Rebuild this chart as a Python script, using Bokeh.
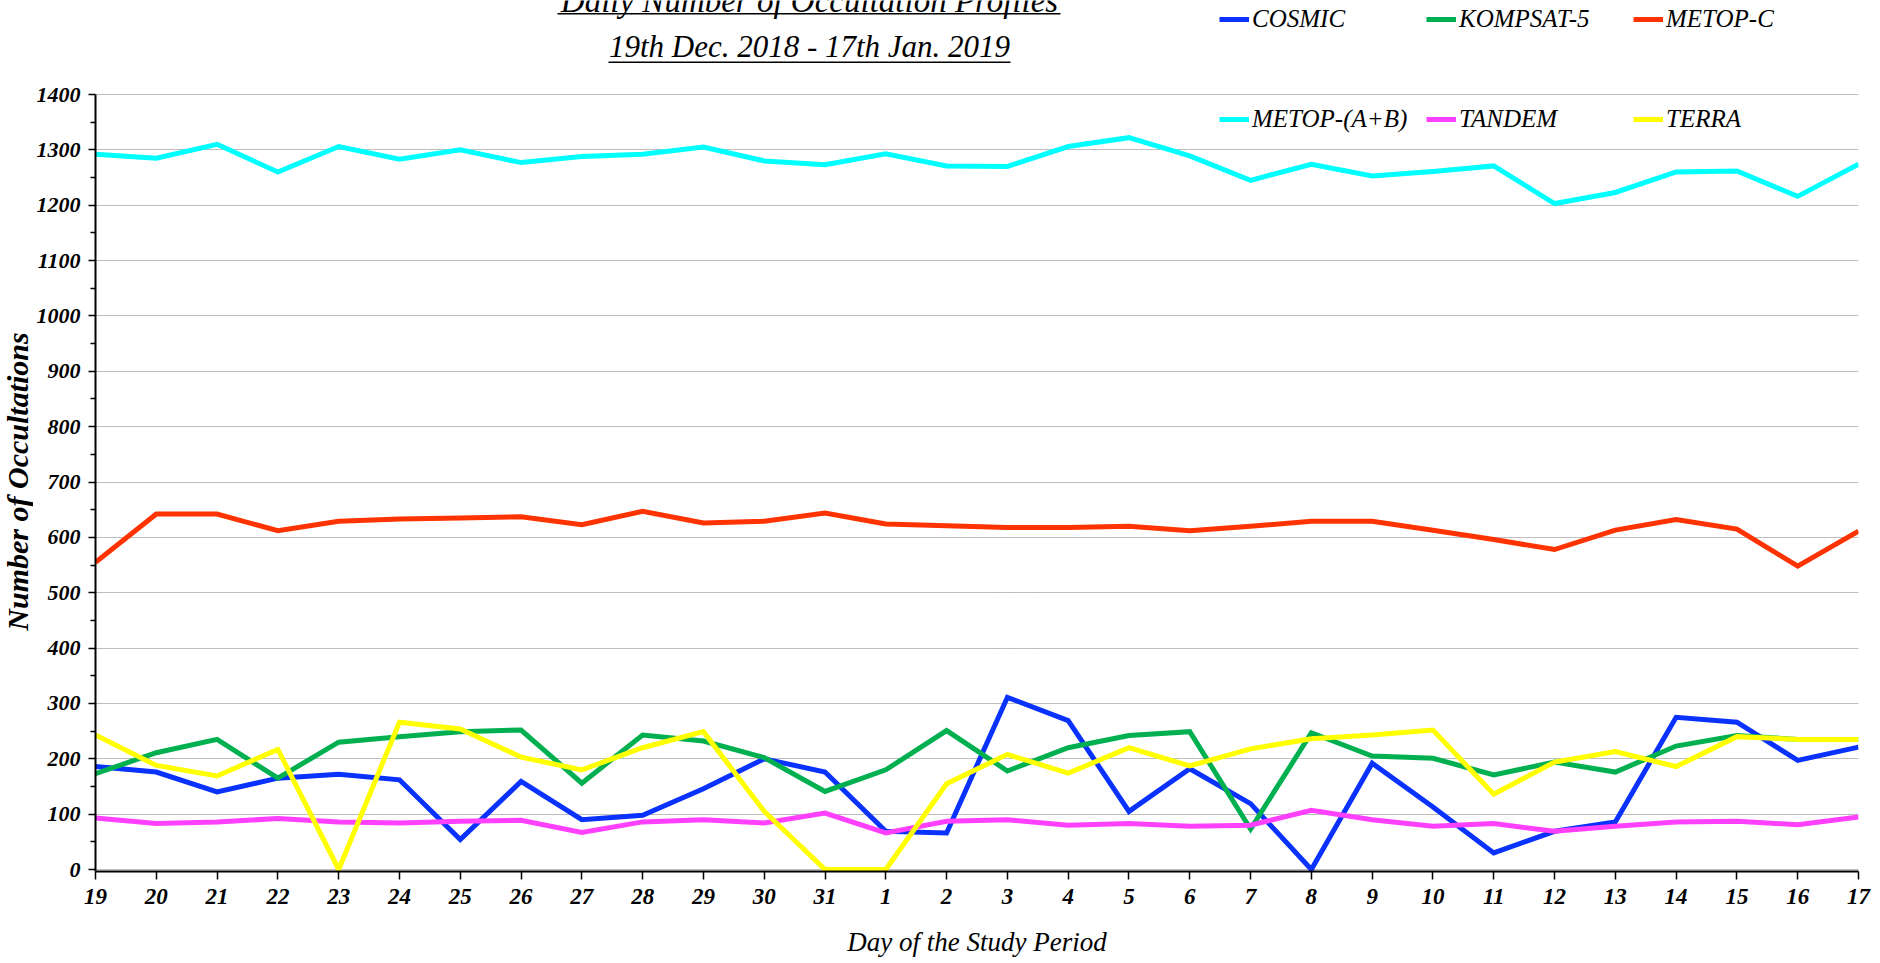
from bokeh.plotting import figure
from bokeh.layouts import row
from bokeh.models import (FixedTicker, Legend, LegendItem, Label, BoxAnnotation,
                          Range1d, ColumnDataSource)
from bokeh.embed import file_html
from bokeh.resources import INLINE

# ---------------- data ----------------
days = [19, 20, 21, 22, 23, 24, 25, 26, 27, 28, 29, 30, 31,
        1, 2, 3, 4, 5, 6, 7, 8, 9, 10, 11, 12, 13, 14, 15, 16, 17]
series_names = ["COSMIC", "KOMPSAT-5", "METOP-C", "METOP-(A+B)", "TANDEM", "TERRA"]
cosmic = [186, 176, 140, 165, 172, 162, 54, 159, 90, 98, 146, 200, 176, 69, 66,
          311, 269, 105, 182, 119, 0, 192, 113, 30, 69, 86, 275, 266, 197, 221]
kompsat5 = [173, 211, 235, 165, 230, 240, 249, 252, 156, 243, 232, 202, 141, 180, 251,
            178, 220, 242, 249, 73, 247, 205, 201, 171, 194, 176, 223, 242, 235, 235]
metop_c = [555, 642, 642, 612, 629, 633, 635, 637, 623, 647, 626, 629, 644, 624, 621,
           618, 618, 620, 612, 620, 629, 629, 613, 596, 578, 613, 632, 615, 548, 611]
metop_ab = [1292, 1285, 1310, 1260, 1306, 1283, 1300, 1277, 1288, 1292, 1305, 1280, 1273, 1293, 1271,
            1270, 1306, 1322, 1289, 1245, 1274, 1253, 1261, 1271, 1203, 1223, 1260, 1262, 1216, 1274]
tandem = [93, 83, 86, 92, 86, 84, 87, 89, 67, 86, 90, 84, 102, 66, 87,
          90, 80, 83, 78, 80, 107, 90, 78, 83, 69, 78, 86, 87, 81, 95]
terra = [243, 188, 169, 217, 0, 266, 254, 203, 180, 220, 249, 105, 0, 0, 155,
         208, 174, 220, 187, 218, 236, 243, 252, 136, 194, 213, 186, 240, 235, 235]
y_ticks = [0, 100, 200, 300, 400, 500, 600, 700, 800, 900, 1000, 1100, 1200, 1300, 1400]
y_minor = [50, 150, 250, 350, 450, 550, 650, 750, 850, 950, 1050, 1150, 1250, 1350]
colors = ["#0a32ff", "#00b050", "#ff3300", "#00ffff", "#ff40ff", "#ffff00"]

title1 = "Daily Number of Occultation Profiles"
title2 = "19th Dec. 2018 - 17th Jan. 2019"
xlabel = "Day of the Study Period"
ylabel = "Number of Occultations"

# ---------------- layout constants ----------------
FONT = "Liberation Serif"
W_TOTAL, H = 1878, 962
W_LAB = 33                      # narrow strip holding the y-axis title
W = W_TOTAL - W_LAB
ML, MR, MT, MB = 92 - W_LAB, 20, 0, 91
frame_h = H - MT - MB
px_per_unit = 775.0 / 1400.0
y_start = -2.0 / px_per_unit
y_end = y_start + frame_h / px_per_unit

# ---------------- y-axis title strip ----------------
lab = figure(width=W_LAB, height=H, output_backend="svg", toolbar_location=None, title=None,
             x_range=Range1d(0, 1), y_range=Range1d(0, 1),
             x_axis_location=None, y_axis_location=None,
             min_border_left=0, min_border_right=0, min_border_top=0, min_border_bottom=0)
lab.outline_line_color = None
lab.xgrid.grid_line_color = None
lab.ygrid.grid_line_color = None
# the strip's frame is aligned with the main frame (bottom at page y = frame_h)
lab.add_layout(Label(x=W_LAB / 2.0, y=frame_h - 481, x_units="screen", y_units="screen", text=ylabel,
                     angle=1.5707963267948966, text_align="center", text_baseline="middle",
                     text_font=FONT, text_font_style="bold italic", text_font_size="30px",
                     text_color="black"))

# ---------------- main figure ----------------
idx = list(range(len(days)))
src = ColumnDataSource(dict(x=idx, cosmic=cosmic, kompsat5=kompsat5, metop_c=metop_c,
                            metop_ab=metop_ab, tandem=tandem, terra=terra))

p = figure(width=W, height=H, output_backend="svg", toolbar_location=None, title=None,
           x_range=Range1d(0, len(days) - 1), y_range=Range1d(y_start, y_end),
           min_border_left=ML, min_border_right=MR, min_border_top=MT, min_border_bottom=MB)
p.outline_line_color = None
p.background_fill_color = "white"
p.border_fill_color = "white"

cols = ["cosmic", "kompsat5", "metop_c", "metop_ab", "tandem", "terra"]
renderers = []
for c, col in zip(cols, colors):
    r = p.line("x", c, source=src, line_color=col, line_width=5, line_join="miter")
    renderers.append(r)

yt = FixedTicker(ticks=y_ticks, minor_ticks=y_minor)
p.yaxis.ticker = yt
p.yaxis.bounds = (y_start, 1400)
p.yaxis.axis_line_width = 2
p.yaxis.axis_line_color = "black"
p.yaxis.major_tick_out = 7
p.yaxis.major_tick_in = 0
p.yaxis.minor_tick_out = 5
p.yaxis.minor_tick_in = 0
p.yaxis.major_tick_line_width = 1.5
p.yaxis.minor_tick_line_width = 1.5
p.yaxis.major_tick_line_color = "black"
p.yaxis.minor_tick_line_color = "black"
p.yaxis.major_label_standoff = 8
p.yaxis.major_label_text_font = FONT
p.yaxis.major_label_text_font_style = "bold italic"
p.yaxis.major_label_text_font_size = "22px"
p.yaxis.major_label_text_color = "black"

p.xaxis.ticker = FixedTicker(ticks=idx)
p.xaxis.major_label_overrides = {i: str(d) for i, d in zip(idx, days)}
p.xaxis.axis_line_width = 2
p.xaxis.axis_line_color = "black"
p.xaxis.major_tick_out = 8
p.xaxis.major_tick_in = 0
p.xaxis.major_tick_line_width = 1.5
p.xaxis.major_tick_line_color = "black"
p.xaxis.minor_tick_line_color = None
p.xaxis.major_label_standoff = 9
p.xaxis.major_label_text_font = FONT
p.xaxis.major_label_text_font_style = "bold italic"
p.xaxis.major_label_text_font_size = "23px"
p.xaxis.major_label_text_color = "black"
p.xaxis.axis_label = xlabel
p.xaxis.axis_label_standoff = 20
p.xaxis.axis_label_text_font = FONT
p.xaxis.axis_label_text_font_style = "italic"
p.xaxis.axis_label_text_font_size = "27px"
p.xaxis.axis_label_text_color = "black"

p.xgrid.grid_line_color = None
p.ygrid.ticker = yt
p.ygrid.grid_line_color = "#7a7a7a"
p.ygrid.grid_line_width = 1
p.ygrid.grid_line_dash = "1 1"

# page coords -> frame screen coords of the main figure
FX0 = W_LAB + ML
FY0 = MT + frame_h


def fx(px):
    return px - FX0


def fy(py):
    return FY0 - py


def make_legend(items, page_x, page_center_y):
    lg = Legend(items=items, orientation="horizontal",
                location=(fx(page_x), fy(page_center_y + 14)),
                background_fill_alpha=0, border_line_color=None, padding=0, margin=0,
                spacing=0, glyph_width=30, glyph_height=20, label_standoff=3,
                label_width=174, label_height=20,
                label_text_font=FONT, label_text_font_style="italic",
                label_text_font_size="25px", label_text_color="black")
    p.add_layout(lg)


make_legend([LegendItem(label=series_names[i], renderers=[renderers[i]]) for i in range(3)], 1216, 19)
make_legend([LegendItem(label=series_names[i], renderers=[renderers[i]]) for i in range(3, 6)], 1216, 119)

# title: two underlined lines (text anchor shifted to compensate for baseline rendering)
for txt, size, base_y, ul_y, ul_x0, ul_x1 in [(title1, "33px", 0, 12.5, 554, 1057),
                                              (title2, "31px", 46, 61, 605, 1007)]:
    p.add_layout(Label(x=fx(806), y=fy(base_y), x_units="screen", y_units="screen", text=txt,
                       text_align="center", text_baseline="alphabetic",
                       text_font=FONT, text_font_style="italic", text_font_size=size,
                       text_color="black"))
    p.add_layout(BoxAnnotation(left=fx(ul_x0), right=fx(ul_x1), top=fy(ul_y),
                               bottom=fy(ul_y + 1.6),
                               left_units="screen", right_units="screen",
                               top_units="screen", bottom_units="screen",
                               fill_color="black", fill_alpha=1, line_alpha=0))

layout = row(lab, p, spacing=0)
open("out.html", "w").write(file_html(layout, INLINE))
